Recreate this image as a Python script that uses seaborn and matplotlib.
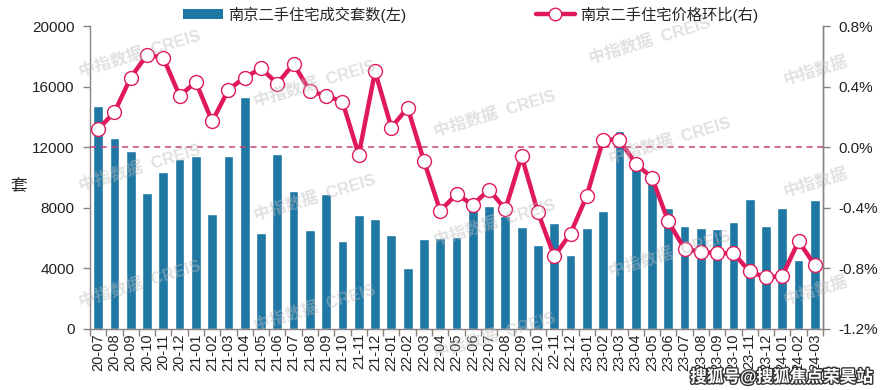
import numpy as np
import pandas as pd
import seaborn as sns
import matplotlib.pyplot as plt
from matplotlib.patches import Patch
from matplotlib.lines import Line2D
from matplotlib.ticker import FuncFormatter, FixedLocator
import matplotlib.patheffects as pe

sns.set_theme(style="white")
plt.rcParams['font.family'] = ['Liberation Sans', 'Noto Sans CJK SC', 'DejaVu Sans']

# colors
bar_blue = '#1f77a4'
line_pink = '#e0195e'
dash_pink = '#c8427a'
spine_gray = '#8a8282'

# data
months = ['20-07', '20-08', '20-09', '20-10', '20-11', '20-12',
          '21-01', '21-02', '21-03', '21-04', '21-05', '21-06',
          '21-07', '21-08', '21-09', '21-10', '21-11', '21-12',
          '22-01', '22-02', '22-03', '22-04', '22-05', '22-06',
          '22-07', '22-08', '22-09', '22-10', '22-11', '22-12',
          '23-01', '23-02', '23-03', '23-04', '23-05', '23-06',
          '23-07', '23-08', '23-09', '23-10', '23-11', '23-12',
          '24-01', '24-02', '24-03']
volume = [14750, 12600, 11750, 9000, 10380, 11220,
          11420, 7590, 11400, 15320, 6350, 11560,
          9100, 6540, 8920, 5820, 7520, 7260,
          6220, 4040, 5950, 6020, 6080, 7850,
          8120, 7460, 6740, 5560, 7020, 4900,
          6680, 7800, 13050, 10700, 9700, 8000,
          6800, 6680, 6620, 7080, 8600, 6820,
          8000, 4560, 8520]
price_mom = [0.12, 0.23, 0.46, 0.61, 0.59, 0.34,
             0.43, 0.17, 0.38, 0.46, 0.52, 0.42,
             0.55, 0.37, 0.34, 0.30, -0.05, 0.50,
             0.13, 0.26, -0.09, -0.42, -0.31, -0.38,
             -0.28, -0.41, -0.06, -0.43, -0.72, -0.57,
             -0.32, 0.05, 0.05, -0.11, -0.20, -0.49,
             -0.67, -0.69, -0.70, -0.70, -0.82, -0.86,
             -0.85, -0.62, -0.78]

df = pd.DataFrame({'month': months, 'volume': volume, 'mom': price_mom})

fig = plt.figure(figsize=(8.88, 3.9), dpi=100)
ax = fig.add_axes([90 / 888, 61 / 390, 733 / 888, 303 / 390])

sns.barplot(data=df, x='month', y='volume', color=bar_blue, width=0.6,
            saturation=1, ax=ax)
ax.set_ylim(0, 20000)
ax.set_yticks([0, 4000, 8000, 12000, 16000, 20000])
ax.set_xlim(-0.5, len(months) - 0.5)
ax.set_xlabel('')
ax.set_ylabel('套', rotation=0, fontsize=12, va='center')
ax.yaxis.set_label_coords(-0.097, 0.47)

ax2 = ax.twinx()
sns.lineplot(data=df, x='month', y='mom', sort=False, color=line_pink,
             linewidth=3.2, marker='o', markersize=10,
             markerfacecolor='white', markeredgecolor=line_pink,
             markeredgewidth=1.0, ax=ax2)
ax2.axhline(0, color=dash_pink, linestyle=(0, (4, 3)), linewidth=1.1, zorder=1)
ax2.set_ylim(-1.2, 0.8)
ax2.set_yticks([-1.2, -0.8, -0.4, 0.0, 0.4, 0.8])
ax2.yaxis.set_major_formatter(FuncFormatter(lambda v, p: f'{v:.1f}%'))
ax2.set_ylabel('')
ax2.set_xlim(-0.5, len(months) - 0.5)

for a in (ax, ax2):
    a.spines['top'].set_visible(False)
    for s in ['left', 'right', 'bottom']:
        a.spines[s].set_color(spine_gray)
        a.spines[s].set_linewidth(1.0)
ax2.spines['left'].set_visible(False)
ax2.spines['bottom'].set_visible(False)

ax.tick_params(axis='y', which='major', direction='out', length=5, width=1,
               color=spine_gray, labelsize=11, pad=6, labelcolor='#222222')
ax2.tick_params(axis='y', which='major', direction='out', length=5, width=1,
                color=spine_gray, labelsize=11, pad=6, labelcolor='#222222')
ax.tick_params(axis='x', which='major', length=0, labelsize=10.5, pad=3,
               labelrotation=90, labelcolor='#222222')
ax.xaxis.set_minor_locator(FixedLocator(np.arange(-0.5, len(months), 1.0)))
ax.tick_params(axis='x', which='minor', direction='out', length=5, width=1,
               color=spine_gray, bottom=True)

# legend
handles = [Patch(facecolor=bar_blue, edgecolor='none'),
           Line2D([0], [0], color=line_pink, linewidth=3.2, marker='o',
                  markersize=9, markerfacecolor='white',
                  markeredgecolor=line_pink)]
fig.legend(handles, ['南京二手住宅成交套数(左)', '南京二手住宅价格环比(右)'],
           loc='center', bbox_to_anchor=(0.53, 0.963), ncol=2, frameon=False,
           fontsize=11, columnspacing=8.5, handlelength=2.6, handletextpad=0.3,
           handleheight=0.6)

# watermarks (pixel centres)
wm_full = [(140, 53), (315, 83), (495, 113), (670, 140), (650, 40),
           (140, 167), (315, 197), (495, 222), (670, 253),
           (140, 283), (315, 307), (495, 335)]
wm_short = [(815, 70), (815, 182), (815, 290)]
for x, y in wm_full:
    fig.text(x / 888, 1 - y / 390, '中指数据  CREIS', fontsize=12,
             color='#bdbdbd', alpha=0.45, rotation=17, ha='center',
             va='center', fontweight='bold', zorder=5)
for x, y in wm_short:
    fig.text(x / 888, 1 - y / 390, '中指数据', fontsize=12,
             color='#bdbdbd', alpha=0.45, rotation=17, ha='center',
             va='center', fontweight='bold', zorder=5)

fig.text(0.88, 0.035, '搜狐号@搜狐焦点荣昊站', fontsize=12, color='white',
         ha='center', va='center', fontweight='bold', zorder=6,
         path_effects=[pe.withStroke(linewidth=2, foreground='#333333')])

fig.savefig('out.png', dpi=100)
